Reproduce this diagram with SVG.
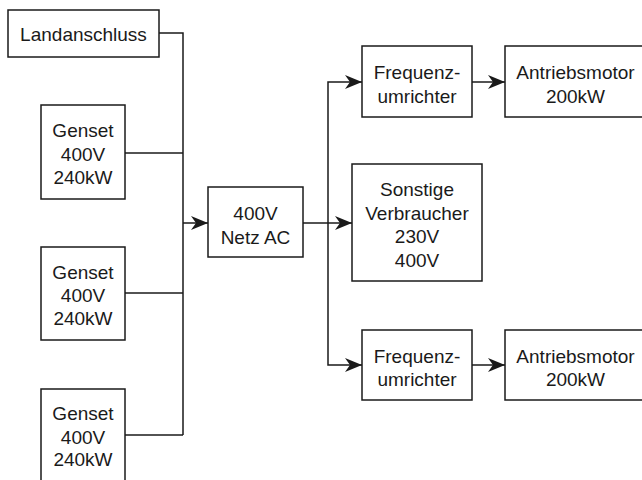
<svg xmlns="http://www.w3.org/2000/svg" width="642" height="480" viewBox="0 0 642 480">
<defs>
<style>
.box{fill:#fff;stroke:#1a1a1a;stroke-width:1.5}
.ln{fill:none;stroke:#1a1a1a;stroke-width:1.5}
text{font-family:"Liberation Sans",Arial,sans-serif;font-size:19px;fill:#1a1a1a;text-anchor:middle}
</style>
<marker id="arr" viewBox="0 0 17 14" refX="17" refY="7" markerWidth="17" markerHeight="14" markerUnits="userSpaceOnUse" orient="auto">
<path d="M0,0 L17,7 L0,14 L5,7 Z" fill="#1a1a1a"/>
</marker>
</defs>
<rect width="642" height="480" fill="#fff"/>
<g id="connectors">
<path class="ln" d="M159,33 H183 V435"/>
<path class="ln" d="M125,153 H183"/>
<path class="ln" d="M125,293 H183"/>
<path class="ln" d="M125,435 H183"/>
<path class="ln" d="M183,223 H208" marker-end="url(#arr)"/>
<path class="ln" d="M303,223 H352" marker-end="url(#arr)"/>
<path class="ln" d="M328,223 V82 H362" marker-end="url(#arr)"/>
<path class="ln" d="M328,223 V365 H362" marker-end="url(#arr)"/>
<path class="ln" d="M472,82 H505" marker-end="url(#arr)"/>
<path class="ln" d="M472,365 H505" marker-end="url(#arr)"/>
</g>
<g id="landanschluss">
<rect class="box" x="8" y="10" width="151" height="47"/>
<text x="83.5" y="40.5">Landanschluss</text>
</g>
<g id="genset1">
<rect class="box" x="41" y="105" width="84" height="94"/>
<text x="83" y="137">Genset</text>
<text x="83" y="161">400V</text>
<text x="83" y="184">240kW</text>
</g>
<g id="genset2">
<rect class="box" x="41" y="247" width="84" height="93"/>
<text x="83" y="279">Genset</text>
<text x="83" y="302">400V</text>
<text x="83" y="325">240kW</text>
</g>
<g id="genset3">
<rect class="box" x="41" y="389" width="84" height="94"/>
<text x="83" y="420">Genset</text>
<text x="83" y="444">400V</text>
<text x="83" y="466">240kW</text>
</g>
<g id="netz">
<rect class="box" x="208" y="187" width="95" height="70"/>
<text x="255.5" y="220">400V</text>
<text x="255.5" y="244">Netz AC</text>
</g>
<g id="frequenz1">
<rect class="box" x="362" y="46" width="110" height="71"/>
<text x="417" y="79">Frequenz-</text>
<text x="417" y="102.5">umrichter</text>
</g>
<g id="antrieb1">
<rect class="box" x="505" y="46" width="141" height="71"/>
<text x="575.5" y="79">Antriebsmotor</text>
<text x="575.5" y="102.5">200kW</text>
</g>
<g id="sonstige">
<rect class="box" x="352" y="164" width="130" height="117"/>
<text x="417" y="196">Sonstige</text>
<text x="417" y="219.5">Verbraucher</text>
<text x="417" y="243">230V</text>
<text x="417" y="266.5">400V</text>
</g>
<g id="frequenz2">
<rect class="box" x="362" y="330" width="110" height="70"/>
<text x="417" y="362.5">Frequenz-</text>
<text x="417" y="385.5">umrichter</text>
</g>
<g id="antrieb2">
<rect class="box" x="505" y="330" width="141" height="70"/>
<text x="575.5" y="362.5">Antriebsmotor</text>
<text x="575.5" y="385.5">200kW</text>
</g>
</svg>
